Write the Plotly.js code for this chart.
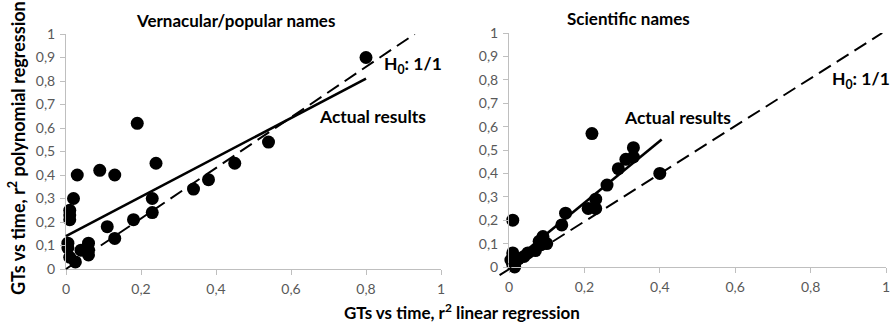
<!DOCTYPE html>
<html><head><meta charset="utf-8">
<script src="https://cdn.plot.ly/plotly-3.0.1.min.js"></script>
<style>html,body{margin:0;padding:0;background:#fff}#chart{width:891px;height:322px}</style>
</head><body><div id="chart"></div>
<script>
// Vernacular/popular names (left panel)
const vernX = [0.80,0.19,0.54,0.24,0.45,0.38,0.34,0.23,0.23,0.18,0.11,0.13,0.09,0.13,0.03,0.02,0.01,0.01,0.01,0.005,0.005,0.01,0.025,0.04,0.06,0.06,0.06];
const vernY = [0.90,0.62,0.54,0.45,0.45,0.38,0.34,0.30,0.24,0.21,0.18,0.13,0.42,0.40,0.40,0.30,0.25,0.23,0.21,0.11,0.09,0.05,0.03,0.08,0.11,0.08,0.06];
const vernFitX = [0, 0.80];
const vernFitY = [0.14, 0.81];
const vernH0X = [0, 0.93];
const vernH0Y = [0, 1.0];
// Scientific names (right panel)
const sciX = [0.22,0.40,0.33,0.31,0.33,0.29,0.26,0.23,0.21,0.23,0.15,0.14,0.01,0.09,0.08,0.10,0.085,0.07,0.05,0.04,0.025,0.01,0.005,0.01,0.015];
const sciY = [0.57,0.40,0.51,0.46,0.47,0.42,0.35,0.29,0.25,0.25,0.23,0.18,0.20,0.13,0.11,0.10,0.095,0.07,0.06,0.045,0.035,0.06,0.03,0.01,0.0];
const sciFitX = [0, 0.405];
const sciFitY = [0.01, 0.545];
const sciH0X = [-0.025, 0.99];
const sciH0Y = [-0.035, 1.0];
// ticks
const xTicks = [0,0.2,0.4,0.6,0.8,1];
const yTicks = [0,0.1,0.2,0.3,0.4,0.5,0.6,0.7,0.8,0.9,1];

const W = 891, H = 322;
const L = {x0:66/W, x1:441/W, y0:1-269/H, y1:1-34/H};
const R = {x0:509/W, x1:886/W, y0:1-267/H, y1:1-33/H};
const ext = 0.045;
function extDom(a,b){return [a-ext*(b-a), b];}

const axColor = '#bfbfbf';
const tickFont = {family:'Lato, "Open Sans", sans-serif', size:14, color:'#595959'};
function mainAx(dom, anchor, vals){
  return {domain:dom, anchor:anchor, range:[0,1], showgrid:false, zeroline:false,
    showline:true, linecolor:axColor, linewidth:1, ticks:'outside', ticklen:5, tickcolor:axColor,
    tickvals:vals, tickfont:tickFont, fixedrange:true, ticklabelstandoff:2};
}
function hidAx(dom, anchor){
  return {domain:dom, anchor:anchor, range:[-ext,1], visible:false, showgrid:false, zeroline:false, fixedrange:true};
}
const mk = {size:13, color:'#000'};
const dashPat = '14px,7px';
const traces = [
  {x:vernX, y:vernY, xaxis:'x', yaxis:'y', mode:'markers', type:'scatter', marker:mk, cliponaxis:false},
  {x:sciX, y:sciY, xaxis:'x2', yaxis:'y2', mode:'markers', type:'scatter', marker:mk, cliponaxis:false},
  {x:vernFitX, y:vernFitY, xaxis:'x3', yaxis:'y3', mode:'lines', line:{color:'#000', width:2.6}},
  {x:vernH0X, y:vernH0Y, xaxis:'x3', yaxis:'y3', mode:'lines', line:{color:'#000', width:2, dash:dashPat}},
  {x:sciFitX, y:sciFitY, xaxis:'x4', yaxis:'y4', mode:'lines', line:{color:'#000', width:2.6}},
  {x:sciH0X, y:sciH0Y, xaxis:'x4', yaxis:'y4', mode:'lines', line:{color:'#000', width:2, dash:dashPat}}
];
const bold = {family:'Lato, "Open Sans", sans-serif', size:17, color:'#000', weight:'bold'};
const lab = {family:'Lato, "Open Sans", sans-serif', size:17.5, color:'#000', weight:'bold'};
const ytitle = {family:'Lato, "Open Sans", sans-serif', size:18, color:'#000', weight:'bold'};
const layout = {
  width:W, height:H, margin:{l:0,r:0,t:0,b:0}, showlegend:false,
  paper_bgcolor:'#fff', plot_bgcolor:'rgba(0,0,0,0)', separators:',.',
  xaxis: mainAx([L.x0,L.x1], 'y', xTicks),
  yaxis: mainAx([L.y0,L.y1], 'x', yTicks),
  xaxis2: mainAx([R.x0,R.x1], 'y2', xTicks),
  yaxis2: mainAx([R.y0,R.y1], 'x2', yTicks),
  xaxis3: hidAx(extDom(L.x0,L.x1), 'y3'),
  yaxis3: hidAx(extDom(L.y0,L.y1), 'x3'),
  xaxis4: hidAx(extDom(R.x0,R.x1), 'y4'),
  yaxis4: hidAx(extDom(R.y0,R.y1), 'x4'),
  annotations: [
    {text:'Vernacular/popular names', xref:'paper', yref:'paper', x:235/W, y:1-20/H, showarrow:false, font:bold, xanchor:'center', yanchor:'middle'},
    {text:'Scientific names', xref:'paper', yref:'paper', x:628/W, y:1-18/H, showarrow:false, font:bold, xanchor:'center', yanchor:'middle'},
    {text:'H<sub>0</sub>: 1/1', xref:'x', yref:'y', x:0.925, y:0.87, showarrow:false, font:lab},
    {text:'Actual results', xref:'x', yref:'y', x:0.816, y:0.647, showarrow:false, font:lab},
    {text:'Actual results', xref:'x2', yref:'y2', x:0.448, y:0.641, showarrow:false, font:lab},
    {text:'H<sub>0</sub>: 1/1', xref:'x2', yref:'y2', x:0.934, y:0.80, showarrow:false, font:lab},
    {text:'GTs vs time, r<sup>2</sup> linear regression', xref:'paper', yref:'paper', x:462/W, y:1-311/H, showarrow:false, font:bold, xanchor:'center', yanchor:'middle'},
    {text:'GTs vs time, r<sup>2</sup> polynomial regression', xref:'paper', yref:'paper', x:17/W, y:1-148/H, showarrow:false, font:ytitle, textangle:-90, xanchor:'center', yanchor:'middle'}
  ]
};
Plotly.newPlot('chart', traces, layout, {staticPlot:true});
</script></body></html>
